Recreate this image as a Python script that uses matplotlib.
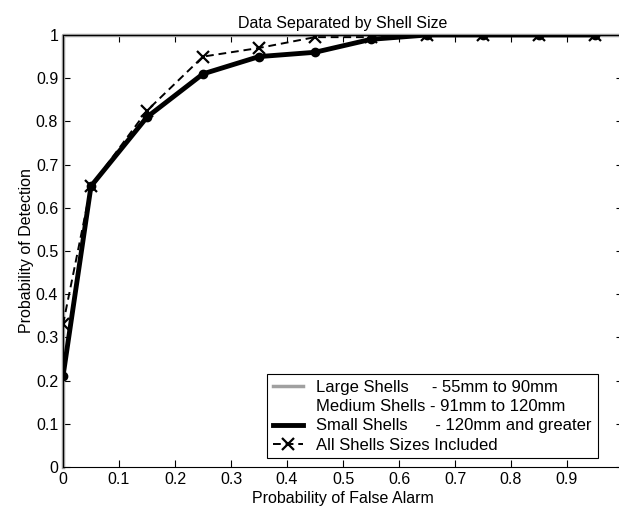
import matplotlib.pyplot as plt
from matplotlib.ticker import FormatStrFormatter, MultipleLocator

plt.rcParams['font.family'] = ['Liberation Sans', 'DejaVu Sans']

# probability of false alarm at each threshold
pfa = [0, 0.05, 0.15, 0.25, 0.35, 0.45, 0.55, 0.65, 0.75, 0.85, 0.95]

# large shells: perfect detection, runs up the left edge and along the top
pfa_large = [0, 0, 1.0]
pd_large = [0, 1.0, 1.0]

pd_medium = [0.21, 0.65, 0.81, 0.91, 0.95, 0.96, 0.99, 1.0, 1.0, 1.0, 1.0]
pd_small = [0.21, 0.65, 0.81, 0.91, 0.95, 0.96, 0.99, 1.0, 1.0, 1.0, 1.0]
pd_all = [0.33, 0.65, 0.825, 0.95, 0.97, 0.995, 0.995, 1.0, 1.0, 1.0, 1.0]

labels = ['Large Shells     - 55mm to 90mm',
          'Medium Shells - 91mm to 120mm',
          'Small Shells      - 120mm and greater',
          'All Shells Sizes Included']

fig = plt.figure(figsize=(6.19, 5.16), dpi=100)
ax = fig.add_axes([63/619, 49/516, 560/619, 432/516])

ax.plot(pfa_large, pd_large, color='#a0a0a0', lw=2.5, label=labels[0], clip_on=False)
ax.plot(pfa, pd_medium, color='white', lw=2.5, label=labels[1])
ax.plot(pfa, pd_small, color='black', lw=3.5, marker='o', ms=6, label=labels[2])
ax.plot(pfa, pd_all, color='black', lw=1.4, ls='--', dashes=(4, 2.5), marker='x',
        ms=8, mew=1.6, label=labels[3])

ax.set_xlim(0, 1)
ax.set_ylim(0, 1)
ax.xaxis.set_major_locator(MultipleLocator(0.1))
ax.yaxis.set_major_locator(MultipleLocator(0.1))
ax.xaxis.set_major_formatter(FormatStrFormatter('%g'))
ax.yaxis.set_major_formatter(FormatStrFormatter('%g'))
ax.tick_params(direction='in', top=True, right=True, labelsize=11.5, length=5)

ax.set_title('Data Separated by Shell Size', fontsize=11.5, pad=5)
ax.set_xlabel('Probability of False Alarm', fontsize=11.5, labelpad=3)
ax.set_ylabel('Probability of Detection', fontsize=11.5, labelpad=1)

leg = ax.legend(loc='lower right', bbox_to_anchor=(0.955, 0.02), borderaxespad=0,
                fancybox=False, edgecolor='black', framealpha=1, fontsize=12,
                handlelength=1.8, handletextpad=0.8, labelspacing=0.25,
                borderpad=0.35)
leg.get_frame().set_linewidth(0.8)
leg.legend_handles[2].set_marker('')

fig.savefig('out.png', dpi=100)
